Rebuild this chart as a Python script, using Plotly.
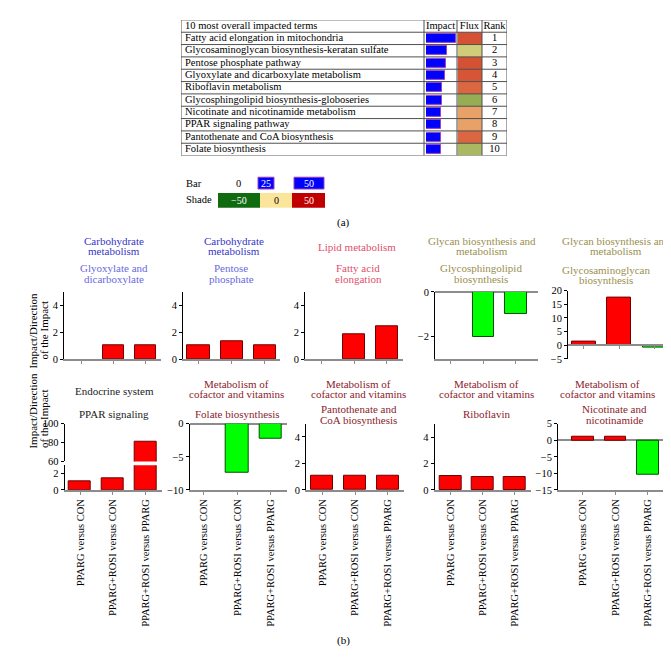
import plotly.graph_objects as go

W, H = 671, 660
SERIF = "Liberation Serif"

# ---------------- (a) table data ----------------
table_header = ["10 most overall impacted terms", "Impact", "Flux", "Rank"]
terms = [
    "Fatty acid elongation in mitochondria",
    "Glycosaminoglycan biosynthesis-keratan sulfate",
    "Pentose phosphate pathway",
    "Glyoxylate and dicarboxylate metabolism",
    "Riboflavin metabolism",
    "Glycosphingolipid biosynthesis-globoseries",
    "Nicotinate and nicotinamide metabolism",
    "PPAR signaling pathway",
    "Pantothenate and CoA biosynthesis",
    "Folate biosynthesis",
]
impact = [50, 36, 33, 32, 27, 27, 25, 25, 25, 25]
flux = [32, -8, 32, 31, 27, -20, 14, 14, 27, -16]
rank = [1, 2, 3, 4, 5, 6, 7, 8, 9, 10]

# key under the table
bar_key = [0, 25, 50]
shade_key = [-50, 0, 50]

# ---------------- (b) panel data ----------------
comparisons = ["PPARG versus CON", "PPARG+ROSI versus CON", "PPARG+ROSI versus PPARG"]
categories = [
    "Carbohydrate<br>metabolism", "Carbohydrate<br>metabolism", "Lipid metabolism",
    "Glycan biosynthesis and<br>metabolism", "Glycan biosynthesis and<br>metabolism",
    "Endocrine system", "Metabolism of<br>cofactor and vitamins",
    "Metabolism of<br>cofactor and vitamins", "Metabolism of<br>cofactor and vitamins",
    "Metabolism of<br>cofactor and vitamins",
]
pathways = [
    "Glyoxylate and<br>dicarboxylate", "Pentose<br>phosphate", "Fatty acid<br>elongation",
    "Glycosphingolipid<br>biosynthesis", "Glycosaminoglycan<br>biosynthesis",
    "PPAR signaling", "Folate biosynthesis", "Pantothenate and<br>CoA biosynthesis",
    "Riboflavin", "Nicotinate and<br>nicotinamide",
]
values = [
    [0, 1.0, 1.0],
    [1.0, 1.3, 1.0],
    [0, 1.85, 2.45],
    [0, -2.0, -1.0],
    [1.43, 17.6, -0.96],
    [1.1, 1.43, 81.2],
    [0, -7.4, -2.2],
    [1.04, 1.04, 1.04],
    [1.05, 0.98, 0.98],
    [1.2, 1.2, -10.5],
]
y_ticks = [
    [0, 2, 4], [0, 2, 4], [0, 2, 4], [-2, 0], [-5, 0, 5, 10, 15, 20],
    [0, 2], [-10, -5, 0], [0, 2, 4], [0, 2, 4], [-15, -10, -5, 0, 5],
]
ppar_upper_ticks = [60, 80, 100]

# colours of the pathway families
title_colors = ["#3535c8", "#3535c8", "#e0506c", "#9a8f50", "#9a8f50",
                "#222222", "#8b1c2c", "#8b1c2c", "#8b1c2c", "#8b1c2c"]
sub_colors = ["#6a6ae0", "#6a6ae0", "#e0506c", "#9a8f50", "#9a8f50",
              "#222222", "#8b1c2c", "#8b1c2c", "#8b1c2c", "#8b1c2c"]

# geometry of the panels (pixels): x0, x1, x-range, y top, y bottom, y-range
geom = [
    (56, 153, [-0.54, 2.49], 284, 352, [0, 5]),
    (175, 272, [-0.47, 2.46], 284, 352, [0, 5]),
    (297, 395, [-0.5, 2.5], 284, 352, [0, 5]),
    (427, 530, [-0.49, 2.68], 283.7, 351.7, [-3, 0]),
    (560, 665, [-0.45, 2.52], 282.3, 351.7, [-5, 20]),
    (56.7, 154, [-0.47, 2.5], 460, 485, [0, 3.05]),
    (181.7, 279, [-0.43, 2.5], 417.7, 485, [-10, 0]),
    (298, 396, [-0.5, 2.5], 417.7, 485, [0, 5]),
    (426.7, 523, [-0.49, 2.5], 418, 485, [0, 5]),
    (550, 656, [-0.77, 2.5], 417.7, 485, [-15, 5]),
]
ppar_upper = (417.7, 456, [60, 100])
title_pos = [  # x centre of category, x centre of pathway
    (106, 105.5), (225.7, 223), (348.5, 350), (474, 473), (607.5, 598),
    (106, 106), (228, 229.7), (351, 351), (479, 479), (599, 606.5),
]


def fx(p):
    return p / W


def fy(p):
    return 1 - p / H


fig = go.Figure()
lay = {}
annots = []
shapes = []

# ---------------- table ----------------
TX0, TX1, TY0, TY1 = 173, 499, 7, 145
col_edges = [0, 243, 276, 301, 326]
lay["xaxis"] = dict(domain=[fx(TX0), fx(TX1)], range=[0, 326], visible=False, fixedrange=True)
lay["yaxis"] = dict(domain=[fy(TY1), fy(TY0)], range=[11, 0], visible=False, fixedrange=True)
lay["xaxis2"] = dict(domain=[fx(418), fx(449)], range=[0, 52], anchor="y", visible=False)
lay["xaxis3"] = dict(domain=[fx(449.5), fx(474)], range=[-0.5, 0.5], anchor="y", visible=False)

rows_y = [i + 1.5 for i in range(len(terms))]
fig.add_trace(go.Heatmap(
    x=[0], y=rows_y, z=[[v] for v in flux], xaxis="x3", yaxis="y",
    zmin=-50, zmax=50, showscale=False, hoverinfo="skip",
    colorscale=[[0, "#006400"], [0.5, "#f8e08e"], [1, "#c00000"]],
))
fig.add_trace(go.Bar(
    x=impact, y=rows_y, orientation="h", xaxis="x2", yaxis="y", width=0.72,
    marker=dict(color="#0000ff", line=dict(color="#a040c0", width=1)),
))
fig.add_trace(go.Scatter(
    x=[4] * len(terms) + [4], y=rows_y + [0.5], mode="text",
    text=terms + [table_header[0]], textposition="middle right",
    textfont=dict(family=SERIF, size=10.5, color="black"), xaxis="x", yaxis="y",
))
fig.add_trace(go.Scatter(
    x=[259.5, 288.5, 313.5] + [313.5] * len(rank), y=[0.5, 0.5, 0.5] + rows_y,
    mode="text", text=table_header[1:] + [str(r) for r in rank],
    textposition="middle center", cliponaxis=False,
    textfont=dict(family=SERIF, size=10.5, color="black"), xaxis="x", yaxis="y",
))
for r in range(12):
    shapes.append(dict(type="line", xref="x", yref="y", x0=0, x1=326, y0=r, y1=r,
                       line=dict(color="#505050", width=1)))
for c in col_edges:
    shapes.append(dict(type="line", xref="x", yref="y", x0=c, x1=c, y0=0, y1=11,
                       line=dict(color="#505050", width=1)))


# key
def key_text(x, y, t, color="black", size=10.5, xanchor="center"):
    annots.append(dict(x=fx(x), y=fy(y), xref="paper", yref="paper", text=t,
                       showarrow=False, xanchor=xanchor, yanchor="middle",
                       font=dict(family=SERIF, size=size, color=color)))


key_text(176, 173, "Bar", xanchor="left")
key_text(176, 190, "Shade", xanchor="left")
key_text(230, 173, str(bar_key[0]))
for (x0, x1), v in zip([(250, 266), (286, 316)], bar_key[1:]):
    shapes.append(dict(type="rect", xref="paper", yref="paper", x0=fx(x0), x1=fx(x1),
                       y0=fy(179), y1=fy(167), fillcolor="#0000ff",
                       line=dict(color="#a040c0", width=1)))
    key_text((x0 + x1) / 2, 173, str(v), color="white", size=10)
for (x0, x1), v, c, tc in zip([(210, 252), (252, 284), (284, 317)], shade_key,
                              ["#106a10", "#fae59a", "#c00000"], ["white", "black", "white"]):
    shapes.append(dict(type="rect", xref="paper", yref="paper", x0=fx(x0), x1=fx(x1),
                       y0=fy(198), y1=fy(183), fillcolor=c, line=dict(width=0)))
    key_text((x0 + x1) / 2, 190.5, str(v).replace("-", "\u2212"), color=tc, size=10)
key_text(335, 213, "(a)", size=11)
key_text(335, 638, "(b)", size=11)

# ---------------- panels ----------------
GRAY = "#8c8c8c"
tickfont = dict(family=SERIF, size=10.5, color="black")


def add_panel(k, g, ydom=None, show_x=True, labels=False, ticks=None, zero_axis=False):
    x0, x1, xr, yt, yb, yr = g
    if ydom is not None:
        yt, yb, yr = ydom
    xa, ya = "xaxis%d" % k, "yaxis%d" % k
    xd = dict(domain=[fx(x0), fx(x1)], range=xr, anchor="y%d" % k,
              tickvals=[0, 1, 2], ticktext=comparisons, showticklabels=labels,
              tickangle=-90, tickfont=tickfont, showgrid=False, zeroline=False,
              showline=show_x, linecolor=GRAY, linewidth=2,
              ticks="outside" if show_x else "", ticklen=3, tickcolor=GRAY)
    if zero_axis:
        yb_f, yt_f = fy(yb), fy(yt)
        xd.update(anchor="free", position=yb_f + (0 - yr[0]) / (yr[1] - yr[0]) * (yt_f - yb_f))
    lay[xa] = xd
    lay[ya] = dict(domain=[fy(yb), fy(yt)], range=yr, anchor="x%d" % k,
                   tickvals=ticks, tickfont=tickfont, showgrid=False,
                   zeroline=(yr[0] < 0 and not zero_axis), zerolinecolor=GRAY, zerolinewidth=2,
                   showline=True, linecolor="black", linewidth=1,
                   ticks="outside", ticklen=3, tickcolor="black")
    return "x%d" % k, "y%d" % k


def bar_trace(vals, xr, yr):
    return go.Bar(
        x=[0, 1, 2], y=vals, xaxis=xr, yaxis=yr, width=0.67,
        marker=dict(color=["#ff0000" if v >= 0 else "#00ff00" for v in vals],
                    line=dict(color=["#700000" if v >= 0 else "#005000" for v in vals],
                              width=[0 if v == 0 else 1 for v in vals])),
    )


for i in range(10):
    k = 4 + i
    row2 = i >= 5
    xr, yr = add_panel(k, geom[i], labels=row2, ticks=y_ticks[i], zero_axis=(i == 4))
    fig.add_trace(bar_trace(values[i], xr, yr))

    # titles, one annotation per line to keep the tight line spacing
    cx, sx = title_pos[i]
    cat_lines = categories[i].split("<br>")
    sub_lines = pathways[i].split("<br>")
    if not row2:
        cat_y = [231.7, 242] if len(cat_lines) == 2 else [238.3]
        sub_y = [259.3, 270.3] if i != 4 else [261, 272]
    else:
        cat_y = [377.3, 387.8] if len(cat_lines) == 2 else [384]
        sub_y = [402.5, 413.5] if len(sub_lines) == 2 else [407.3]
    for t, yy in zip(cat_lines, cat_y):
        key_text(cx, yy, t, color=title_colors[i], size=11)
    for t, yy in zip(sub_lines, sub_y):
        key_text(sx, yy, t, color=sub_colors[i], size=11)

# upper part of the broken PPAR axis
xr, yr = add_panel(14, geom[5], ydom=ppar_upper, show_x=False, ticks=ppar_upper_ticks)
fig.add_trace(bar_trace(values[5], xr, yr))

# y axis titles
for yc in (323, 445):
    for xc, t in ((17, "Impact/Direction"), (28, "of the Impact")):
        annots.append(dict(x=fx(xc), y=fy(yc), xref="paper", yref="paper", text=t,
                           textangle=-90, showarrow=False,
                           font=dict(family=SERIF, size=11, color="black")))

fig.update_layout(
    width=W, height=H, margin=dict(l=0, r=0, t=0, b=0),
    paper_bgcolor="white", plot_bgcolor="rgba(0,0,0,0)", showlegend=False,
    annotations=annots, shapes=shapes, bargap=0, font=dict(family=SERIF),
    **lay,
)

fig.write_html("out.html")
